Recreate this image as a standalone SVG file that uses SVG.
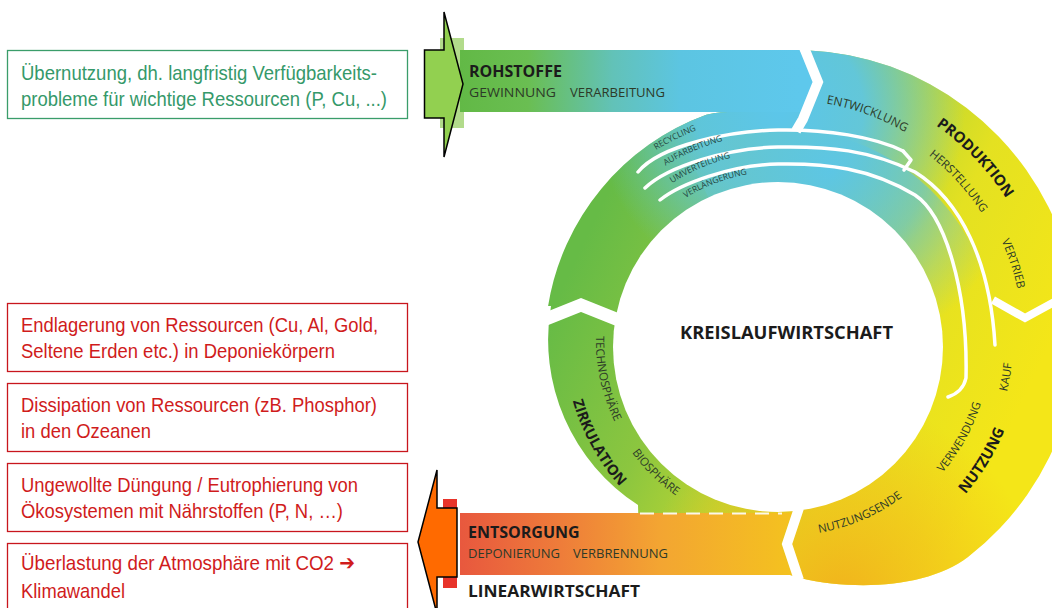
<svg xmlns="http://www.w3.org/2000/svg" width="1052" height="608" viewBox="0 0 1052 608">
<defs>
<style>
.box-g{fill:#fff;stroke:#3a9d6a;stroke-width:1.3}
.box-r{fill:#fff;stroke:#c8161d;stroke-width:1.3}
.t-g{font-family:"Liberation Sans Narrow","Liberation Sans",Arial,sans-serif;font-size:21px;fill:#35996a}
.t-r{font-family:"Liberation Sans Narrow","Liberation Sans",Arial,"DejaVu Sans",sans-serif;font-size:21px;fill:#d01c1c}
.sep{fill:none;stroke:#fff;stroke-width:3.5;stroke-linecap:round;stroke-linejoin:round}
.gap{fill:none;stroke:#fff;stroke-linejoin:miter}
.lb{font-family:"Open Sans","Noto Sans",sans-serif;font-weight:700;fill:#1b1b1b}
.ls{font-family:"Open Sans","Noto Sans",sans-serif;font-weight:400;fill:#2d3a28}
.lt{font-family:"Open Sans","Noto Sans",sans-serif;font-weight:400;font-size:8.5px;fill:#23463f}
.arrow{stroke:#000;stroke-width:1.5;stroke-linejoin:miter}
</style>
<linearGradient id="gRing" gradientUnits="userSpaceOnUse" x1="580" y1="250" x2="1000" y2="450">
<stop offset="0" stop-color="#66bb46"/><stop offset="0.3" stop-color="#8cc63f"/><stop offset="0.5" stop-color="#b9d532"/><stop offset="0.7" stop-color="#e4e121"/><stop offset="1" stop-color="#f4e618"/>
</linearGradient>
<radialGradient id="gBlue" gradientUnits="userSpaceOnUse" cx="780" cy="110" r="185">
<stop offset="0" stop-color="#5cc6ea" stop-opacity="1"/><stop offset="0.45" stop-color="#5cc6ea" stop-opacity="0.9"/><stop offset="1" stop-color="#5cc6ea" stop-opacity="0"/>
</radialGradient>
<radialGradient id="gInner" gradientUnits="userSpaceOnUse" cx="830" cy="170" r="185">
<stop offset="0" stop-color="#5cc6e6" stop-opacity="0.85"/><stop offset="0.5" stop-color="#66c6cc" stop-opacity="0.7"/><stop offset="1" stop-color="#66c6cc" stop-opacity="0"/>
</radialGradient>
<radialGradient id="gGold" gradientUnits="userSpaceOnUse" cx="840" cy="600" r="200">
<stop offset="0" stop-color="#f2b01c" stop-opacity="0.95"/><stop offset="0.5" stop-color="#f2bb1c" stop-opacity="0.6"/><stop offset="1" stop-color="#f2bb1c" stop-opacity="0"/>
</radialGradient>
<linearGradient id="gRoh" gradientUnits="userSpaceOnUse" x1="460" y1="0" x2="800" y2="0">
<stop offset="0" stop-color="#62b946"/><stop offset="0.2" stop-color="#6abe52"/><stop offset="0.45" stop-color="#62c2b8"/><stop offset="0.65" stop-color="#5cc5e2"/><stop offset="1" stop-color="#5ec8ec"/>
</linearGradient>
<linearGradient id="gEnt" gradientUnits="userSpaceOnUse" x1="460" y1="0" x2="792" y2="0">
<stop offset="0" stop-color="#e8583e"/><stop offset="0.3" stop-color="#ee7c3a"/><stop offset="0.6" stop-color="#f3a532"/><stop offset="1" stop-color="#f4c21f"/>
</linearGradient>
<path id="ringShape" d="M 806,50.2 A 283 283 0 0 1 968,557 C 930,586 860,592 800,578 L 790,575 L 640,575 L 638,505 A 197 197 0 0 1 551,306 L 548.1,306 A 245 245 0 0 1 706.2,114.8 C 716,112 726,112 736,112 L 790,112 L 806,81 Z"/>
<path id="p-entw" d="M 743.3,103.6 A 240 240 0 0 1 968.9,185.7"/>
<path id="p-prod" d="M 858.1,88.4 A 263 263 0 0 1 1040.4,277.5"/>
<path id="p-herst" d="M 857,117 A 234 234 0 0 1 1013,288"/>
<path id="p-vert" d="M 942.7,161.7 A 238 238 0 0 1 1018.2,387.5"/>
<path id="p-kauf" d="M 960.9,485 A 228 228 0 0 0 998.6,260.2"/>
<path id="p-verw" d="M 891.1,516.6 A 206 206 0 0 0 991,336.4"/>
<path id="p-nutz" d="M 898.6,548.4 A 237.4 237.4 0 0 0 1022.3,345.8"/>
<path id="p-nende" d="M 762.5,534.7 A 196 196 0 0 0 942.3,456.9"/>
<path id="p-zirk" d="M 564.3,335.4 A 220.7 220.7 0 0 0 670.7,528.8"/>
<path id="p-tech" d="M 605,282.2 A 189 189 0 0 0 645,467"/>
<path id="p-bio" d="M 602.1,391.4 A 190 190 0 0 0 738.1,524.1"/>
<path id="p-rec" d="M 585.5,218.2 A 231.6 231.6 0 0 1 793.4,115.9"/>
<path id="p-auf" d="M 606.7,219.8 A 213.4 213.4 0 0 1 802.5,135"/>
<path id="p-umv" d="M 621.2,231 A 195 195 0 0 1 800.1,153.2"/>
<path id="p-verl" d="M 641.7,236.6 A 175.4 175.4 0 0 1 805.4,173.8"/>
</defs>
<rect width="1052" height="608" fill="#fff"/>

<g id="ring">
<use href="#ringShape" fill="url(#gRing)"/>
<use href="#ringShape" fill="url(#gBlue)"/>
<use href="#ringShape" fill="url(#gGold)"/>
<path d="M 685.5,148.5 A 219 219 0 0 1 989.5,403.7 L 932.5,388.4 A 160 160 0 0 0 710.4,202 Z" fill="url(#gInner)"/>
<circle cx="778" cy="347" r="165" fill="#fff"/>
</g>

<g id="rohstoffe">
<rect x="440" y="38" width="24" height="90" fill="#9fd26e" opacity="0.8"/>
<path d="M 460,50 L 800,50 L 816,82 L 800,112 L 460,112 Z" fill="url(#gRoh)"/>
<text class="lb" x="469" y="77" font-size="16" fill="#1a2a1a">ROHSTOFFE</text>
<text class="ls" x="469" y="97" font-size="12.5" fill="#2f5a2f" textLength="87" lengthAdjust="spacingAndGlyphs">GEWINNUNG</text>
<text class="ls" x="570" y="97" font-size="12.5" fill="#2f5a2f" textLength="95" lengthAdjust="spacingAndGlyphs">VERARBEITUNG</text>
</g>

<g id="entsorgung">
<rect x="443" y="499" width="14" height="89" fill="#e8332a"/>
<path d="M 460,513 L 792,513 L 780,544 L 792,575 L 460,575 Z" fill="url(#gEnt)"/>
<line x1="640" y1="513.5" x2="782" y2="513.5" stroke="#fff" stroke-width="2" stroke-dasharray="14 9" opacity="0.9"/>
<text class="lb" x="468" y="538" font-size="16" fill="#4a1510">ENTSORGUNG</text>
<text class="ls" x="468" y="558" font-size="12" fill="#9a3520" textLength="92" lengthAdjust="spacingAndGlyphs">DEPONIERUNG</text>
<text class="ls" x="573" y="558" font-size="12" fill="#9a3520" textLength="95" lengthAdjust="spacingAndGlyphs">VERBRENNUNG</text>
<text class="lb" x="468" y="597" font-size="16" fill="#1a1a1a" textLength="172" lengthAdjust="spacingAndGlyphs">LINEARWIRTSCHAFT</text>
</g>

<g id="separators">
<path class="sep" d="M 638,172 C 660,145 730,131 778,130 S 875,137 903,151"/>
<path class="sep" d="M 903,151 L 911,160 L 904,170"/>
<path class="sep" d="M 645,188 C 668,166 728,148 778,147 S 870,150 915,172 C 960,200 990,260 995,345"/>
<path class="sep" d="M 660,200 C 680,184 730,165 778,164 S 870,168 915,195 C 945,215 968,290 966,378 Q 963,392 948,397"/>
<path class="gap" stroke-width="10" d="M 803,45 L 818,82 L 803,119 L 796,131"/>
<path class="gap" stroke-width="10" d="M 799,508 L 787,544 L 799,580"/>
<path class="gap" stroke-width="13" d="M 541,321 L 581,305 L 621,321"/>
<path class="gap" stroke-width="8" d="M 993,300 L 1025,318 L 1058,300"/>
</g>

<g id="labels">
<text class="ls" font-size="12"><textPath href="#p-entw" startOffset="50%" text-anchor="middle">ENTWICKLUNG</textPath></text>
<text class="lb" font-size="15"><textPath href="#p-prod" startOffset="50%" text-anchor="middle">PRODUKTION</textPath></text>
<text class="ls" font-size="11.5"><textPath href="#p-herst" startOffset="50%" text-anchor="middle">HERSTELLUNG</textPath></text>
<text class="ls" font-size="11.5"><textPath href="#p-vert" startOffset="50%" text-anchor="middle">VERTRIEB</textPath></text>
<text class="ls" font-size="11.5"><textPath href="#p-kauf" startOffset="50%" text-anchor="middle">KAUF</textPath></text>
<text class="ls" font-size="11.5"><textPath href="#p-verw" startOffset="50%" text-anchor="middle">VERWENDUNG</textPath></text>
<text class="lb" font-size="15"><textPath href="#p-nutz" startOffset="50%" text-anchor="middle">NUTZUNG</textPath></text>
<text class="ls" font-size="11.5"><textPath href="#p-nende" startOffset="50%" text-anchor="middle">NUTZUNGSENDE</textPath></text>
<text class="lb" font-size="14.5"><textPath href="#p-zirk" startOffset="50%" text-anchor="middle">ZIRKULATION</textPath></text>
<text class="ls" font-size="11.5"><textPath href="#p-tech" startOffset="50%" text-anchor="middle">TECHNOSPHÄRE</textPath></text>
<text class="ls" font-size="11.5"><textPath href="#p-bio" startOffset="50%" text-anchor="middle">BIOSPHÄRE</textPath></text>
<text class="lt"><textPath href="#p-rec" startOffset="50%" text-anchor="middle">RECYCLING</textPath></text>
<text class="lt"><textPath href="#p-auf" startOffset="50%" text-anchor="middle">AUFARBEITUNG</textPath></text>
<text class="lt"><textPath href="#p-umv" startOffset="50%" text-anchor="middle">UMVERTEILUNG</textPath></text>
<text class="lt"><textPath href="#p-verl" startOffset="50%" text-anchor="middle">VERLÄNGERUNG</textPath></text>
</g>

<g id="kreislaufwirtschaft">
<text class="lb" x="680" y="339" font-size="17" textLength="213" lengthAdjust="spacingAndGlyphs">KREISLAUFWIRTSCHAFT</text>
</g>

<g id="connectors">
<path id="arrow-in" class="arrow" fill="#92d050" d="M 424.5,50 L 444,50 L 444,12 L 463,84 L 444,157 L 444,118 L 424.5,118 Z"/>
<path id="arrow-out" class="arrow" fill="#ff6a00" d="M 457,508 L 437,508 L 437,470 L 418,542 L 437,614 L 437,577 L 457,577 Z"/>
</g>

<g id="box-uebernutzung">
<rect class="box-g" x="7.5" y="50.5" width="400" height="68"/>
<text class="t-g" x="21" y="80" textLength="356" lengthAdjust="spacingAndGlyphs">Übernutzung, dh. langfristig Verfügbarkeits-</text>
<text class="t-g" x="21" y="106" textLength="366" lengthAdjust="spacingAndGlyphs">probleme für wichtige Ressourcen (P, Cu, ...)</text>
</g>

<g id="box-endlagerung">
<rect class="box-r" x="7.5" y="303.5" width="400" height="68"/>
<text class="t-r" x="21" y="332" textLength="357" lengthAdjust="spacingAndGlyphs">Endlagerung von Ressourcen (Cu, Al, Gold,</text>
<text class="t-r" x="21" y="358" textLength="314" lengthAdjust="spacingAndGlyphs">Seltene Erden etc.) in Deponiekörpern</text>
</g>

<g id="box-dissipation">
<rect class="box-r" x="7.5" y="383.5" width="400" height="68"/>
<text class="t-r" x="21" y="412" textLength="356" lengthAdjust="spacingAndGlyphs">Dissipation von Ressourcen (zB. Phosphor)</text>
<text class="t-r" x="21" y="438" textLength="130" lengthAdjust="spacingAndGlyphs">in den Ozeanen</text>
</g>

<g id="box-duengung">
<rect class="box-r" x="7.5" y="463.5" width="400" height="68"/>
<text class="t-r" x="21" y="492" textLength="337" lengthAdjust="spacingAndGlyphs">Ungewollte Düngung / Eutrophierung von</text>
<text class="t-r" x="21" y="518" textLength="322" lengthAdjust="spacingAndGlyphs">Ökosystemen mit Nährstoffen (P, N, …)</text>
</g>

<g id="box-atmosphaere">
<rect class="box-r" x="7.5" y="543.5" width="400" height="72"/>
<text class="t-r" x="21" y="570" textLength="334" lengthAdjust="spacingAndGlyphs">Überlastung der Atmosphäre mit CO2 ➔</text>
<text class="t-r" x="21" y="598" textLength="104" lengthAdjust="spacingAndGlyphs">Klimawandel</text>
</g>
</svg>
